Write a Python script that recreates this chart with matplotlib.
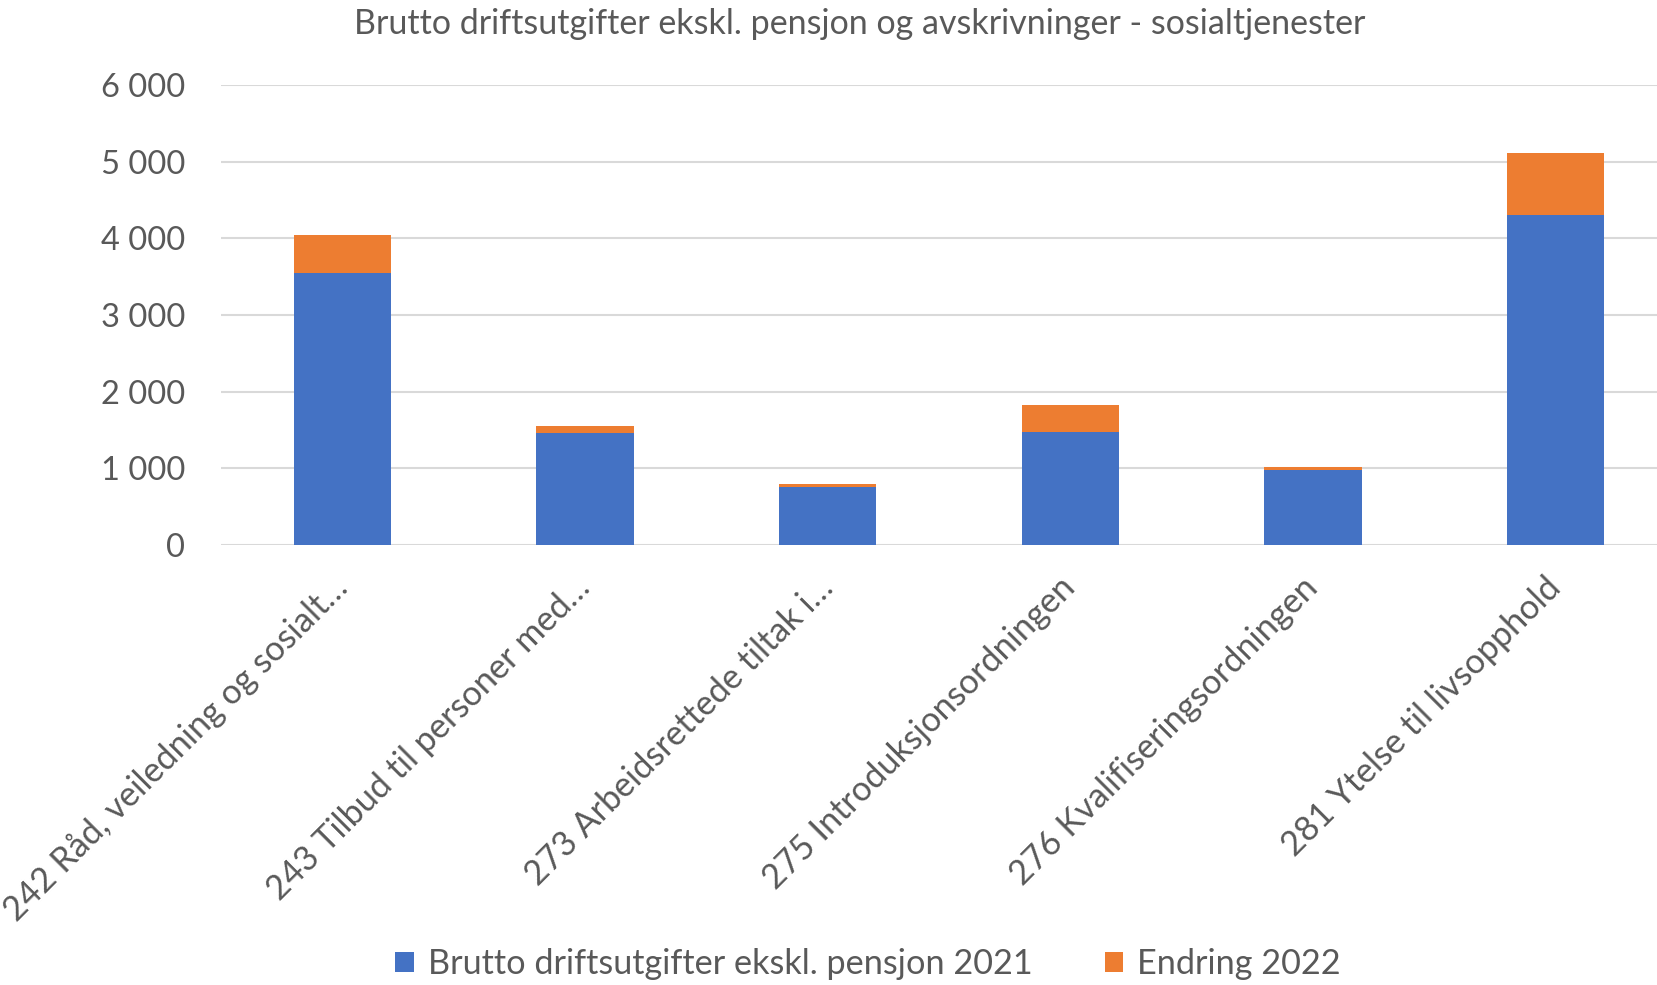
import numpy as np
import matplotlib.pyplot as plt
from matplotlib.ticker import FuncFormatter

# values
categories = [
    "242 Råd, veiledning og sosialt…",
    "243 Tilbud til personer med…",
    "273 Arbeidsrettede tiltak i…",
    "275 Introduksjonsordningen",
    "276 Kvalifiseringsordningen",
    "281 Ytelse til livsopphold",
]
brutto_2021 = [3545, 1465, 753, 1478, 978, 4305]
endring_2022 = [498, 87, 39, 348, 35, 808]

TITLE = "Brutto driftsutgifter ekskl. pensjon og avskrivninger - sosialtjenester"
LABELS = ["Brutto driftsutgifter ekskl. pensjon 2021", "Endring 2022"]
BLUE = "#4472C4"
ORANGE = "#ED7D31"
TEXT = "#595959"
GRID = "#D9D9D9"

plt.rcParams["font.family"] = ["Lato", "DejaVu Sans"]

W, H = 1658, 985
fig = plt.figure(figsize=(W / 100, H / 100), dpi=100)
ax = fig.add_axes([221 / W, 1 - 545 / H, (1677 - 221) / W, (545 - 85) / H])

x = np.arange(len(categories))
ax.bar(x, brutto_2021, width=0.4, color=BLUE, label=LABELS[0], zorder=3)
ax.bar(x, endring_2022, width=0.4, bottom=brutto_2021, color=ORANGE,
       label=LABELS[1], zorder=3)

ax.set_xlim(-0.5, len(categories) - 0.5)
ax.set_ylim(0, 6000)
ax.set_yticks(np.arange(0, 6001, 1000))
ax.yaxis.set_major_formatter(FuncFormatter(lambda v, _: f"{int(v):,}".replace(",", " ")))
ax.grid(axis="y", color=GRID, linewidth=1.5, zorder=0)
for s in ax.spines.values():
    s.set_visible(False)
ax.tick_params(axis="y", length=0, pad=26, labelsize=23.5, labelcolor=TEXT)
ax.tick_params(axis="x", length=0, pad=27, labelsize=24.7, labelcolor=TEXT)

ax.set_xticks(x)
ax.set_xticklabels(categories, rotation=45, rotation_mode="anchor",
                   ha="right", va="center")

fig.text(860 / W, 1 - 24 / H, TITLE, ha="center", va="center",
         fontsize=24.5, color=TEXT)

fig.legend(loc="center", bbox_to_anchor=(868 / W, 1 - 964 / H), ncol=2,
           frameon=False, fontsize=24.7, labelcolor=TEXT,
           handlelength=0.55, handleheight=0.55, handletextpad=0.4,
           columnspacing=2.1)

fig.savefig("out.png", dpi=100)
